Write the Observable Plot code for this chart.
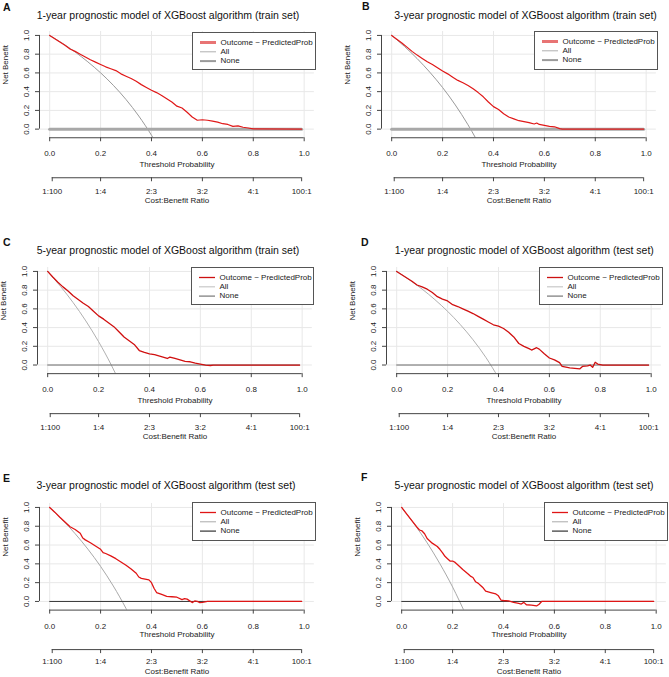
<!DOCTYPE html>
<html><head><meta charset="utf-8">
<script src="https://cdn.jsdelivr.net/npm/d3@7"></script>
<script src="https://cdn.jsdelivr.net/npm/@observablehq/plot@0.6"></script>
<style>
body{margin:0;background:#fff;}
#fig{position:relative;width:669px;height:677px;overflow:hidden;font-family:"Liberation Sans",Arial,sans-serif;background:#fff;}
.abs{position:absolute;white-space:nowrap;}
.title{font-size:10.5px;color:#111;transform:translate(-50%,-50%);line-height:1;}
.letter{font-size:10.5px;font-weight:bold;color:#111;transform:translate(0,-50%);line-height:1;}
.legend{border:1px solid #555;background:#fff;box-sizing:border-box;}
.legend .txt{position:absolute;font-size:8px;color:#222;line-height:1;transform:translate(0,-50%);}
.legend svg{position:absolute;left:0;top:0;overflow:visible;}
svg.plotsvg{position:absolute;}
</style></head>
<body><div id="fig"></div>
<script>
// ---------- data ----------
const titles = [
  "1-year prognostic model of XGBoost algorithm (train set)",
  "3-year prognostic model of XGBoost algorithm (train set)",
  "5-year prognostic model of XGBoost algorithm (train set)",
  "1-year prognostic model of XGBoost algorithm (test set)",
  "3-year prognostic model of XGBoost algorithm (test set)",
  "5-year prognostic model of XGBoost algorithm (test set)"
];
const letters = ["A","B","C","D","E","F"];
const legendNames = ["Outcome ~ PredictedProb", "All", "None"];
const xTicks = [0, 0.2, 0.4, 0.6, 0.8, 1.0];
const yTicks = [0, 0.2, 0.4, 0.6, 0.8, 1.0];
const costTicks = [0.01, 0.2, 0.4, 0.6, 0.8, 0.99];
const costLabels = ["1:100", "1:4", "2:3", "3:2", "4:1", "100:1"];
const noneThr = [0, 0.99];
const noneNB = [0, 0];

// A: 1-year train
const thrA = [0,0.02,0.04,0.06,0.08,0.10,0.12,0.14,0.16,0.18,0.20,0.22,0.24,0.26,0.28,0.30,0.32,0.34,0.36,0.38,0.40,0.42,0.44,0.46,0.48,0.50,0.52,0.54,0.56,0.58,0.60,0.62,0.64,0.66,0.68,0.70,0.72,0.74,0.76,0.78,0.80,0.99];
const nbA  = [1.0,0.965,0.93,0.895,0.855,0.83,0.80,0.77,0.74,0.715,0.69,0.665,0.645,0.625,0.59,0.565,0.54,0.51,0.475,0.445,0.415,0.39,0.36,0.325,0.29,0.245,0.225,0.18,0.13,0.095,0.10,0.095,0.085,0.075,0.058,0.05,0.03,0.035,0.02,0.012,0.002,0];
const allThrA = [0,0.05,0.1,0.15,0.2,0.25,0.3,0.35,0.4,0.42];
const allA    = [1,0.916,0.823,0.718,0.601,0.468,0.316,0.140,-0.065,-0.157];

// B: 3-year train
const thrB = [0,0.02,0.04,0.06,0.08,0.10,0.12,0.14,0.16,0.18,0.20,0.22,0.24,0.26,0.28,0.30,0.32,0.34,0.36,0.38,0.40,0.42,0.44,0.46,0.48,0.50,0.52,0.54,0.56,0.57,0.58,0.60,0.62,0.64,0.66,0.67,0.99];
const nbB  = [1.0,0.96,0.92,0.875,0.83,0.79,0.755,0.72,0.69,0.655,0.62,0.59,0.555,0.52,0.495,0.465,0.43,0.39,0.345,0.29,0.24,0.21,0.165,0.13,0.11,0.09,0.08,0.07,0.055,0.065,0.05,0.04,0.03,0.025,0.005,0,0];
const allThrB = [0,0.05,0.1,0.15,0.2,0.25,0.3,0.33,0.35];
const allB    = [1,0.883,0.753,0.607,0.444,0.258,0.046,-0.096,-0.199];

// C: 5-year train
const thrC = [0,0.02,0.04,0.06,0.08,0.10,0.12,0.14,0.16,0.18,0.20,0.22,0.24,0.26,0.28,0.30,0.32,0.34,0.36,0.38,0.40,0.42,0.44,0.46,0.47,0.48,0.50,0.52,0.54,0.56,0.58,0.60,0.62,0.64,0.65,0.99];
const nbC  = [1.0,0.94,0.885,0.835,0.79,0.74,0.70,0.66,0.625,0.575,0.525,0.49,0.45,0.41,0.355,0.30,0.26,0.22,0.155,0.135,0.12,0.11,0.095,0.08,0.07,0.085,0.07,0.055,0.04,0.035,0.02,0.01,0.0,-0.005,0,0];
const allThrC = [0,0.05,0.1,0.15,0.2,0.25,0.27,0.3];
const allC    = [1,0.842,0.667,0.471,0.25,0.0,-0.11,-0.286];

// D: 1-year test
const thrD = [0,0.02,0.04,0.06,0.08,0.10,0.12,0.14,0.16,0.18,0.20,0.22,0.24,0.26,0.28,0.30,0.32,0.34,0.36,0.38,0.40,0.42,0.44,0.46,0.48,0.50,0.52,0.53,0.55,0.56,0.58,0.60,0.62,0.64,0.65,0.68,0.70,0.72,0.73,0.75,0.76,0.77,0.78,0.79,0.81,0.99];
const nbD  = [1.0,0.965,0.93,0.895,0.855,0.835,0.81,0.775,0.73,0.705,0.685,0.645,0.625,0.60,0.575,0.55,0.52,0.49,0.46,0.43,0.415,0.39,0.35,0.30,0.23,0.20,0.175,0.16,0.185,0.17,0.12,0.075,0.055,0.025,-0.015,-0.03,-0.035,-0.04,-0.015,-0.01,0.0,-0.025,0.03,0.01,0,0];
const allThrD = [0,0.05,0.1,0.15,0.2,0.25,0.3,0.35,0.4];
const allD    = [1,0.910,0.811,0.699,0.574,0.432,0.270,0.083,-0.135];

// E: 3-year test
const thrE = [0,0.02,0.04,0.06,0.08,0.10,0.12,0.13,0.14,0.16,0.18,0.20,0.21,0.22,0.24,0.26,0.28,0.30,0.32,0.34,0.35,0.36,0.38,0.39,0.40,0.41,0.42,0.44,0.46,0.48,0.50,0.52,0.53,0.54,0.56,0.57,0.58,0.59,0.60,0.62,0.99];
const nbE  = [1.0,0.95,0.895,0.845,0.795,0.765,0.725,0.675,0.655,0.625,0.59,0.555,0.52,0.51,0.485,0.455,0.42,0.385,0.345,0.30,0.26,0.245,0.235,0.23,0.20,0.14,0.095,0.075,0.055,0.05,0.045,0.02,0.03,0.025,-0.012,0.005,0.0,-0.012,-0.01,0,0];
const allThrE = [0,0.05,0.1,0.15,0.2,0.25,0.3,0.32];
const allE    = [1,0.868,0.721,0.557,0.373,0.164,-0.075,-0.181];

// F: 5-year test
const thrF = [0,0.02,0.04,0.06,0.07,0.08,0.09,0.10,0.12,0.14,0.15,0.16,0.17,0.18,0.19,0.20,0.21,0.22,0.24,0.26,0.27,0.28,0.29,0.30,0.31,0.32,0.33,0.35,0.37,0.38,0.39,0.40,0.42,0.44,0.46,0.47,0.48,0.49,0.51,0.53,0.54,0.55,0.99];
const nbF  = [1.0,0.93,0.86,0.79,0.76,0.75,0.72,0.67,0.62,0.585,0.555,0.52,0.48,0.455,0.43,0.43,0.415,0.39,0.34,0.295,0.27,0.255,0.21,0.195,0.17,0.145,0.11,0.095,0.08,0.06,0.015,0.01,0.005,-0.01,-0.02,-0.028,-0.01,-0.035,-0.04,-0.048,-0.03,0.0,0];
const allThrF = [0,0.05,0.1,0.15,0.2,0.25];
const allF    = [1,0.822,0.624,0.402,0.154,-0.129];

const modelThr = [thrA, thrB, thrC, thrD, thrE, thrF];
const modelNB  = [nbA, nbB, nbC, nbD, nbE, nbF];
const allThr   = [allThrA, allThrB, allThrC, allThrD, allThrE, allThrF];
const allNB    = [allA, allB, allC, allD, allE, allF];

// ---------- layout & styles ----------
const layout = [
  {x0:49.3,  y1:35,    y0:128.7, title:[168,15],     letter:[3,6.7],   legend:[192,31.7,124,37.6],    st:0, thrDy:29, cbLine:40, cbPad:7, cbDy:65.5},
  {x0:390.7, y1:35,    y0:128.7, title:[525.5,15],   letter:[362,6.2], legend:[534,30.7,124,38.6],    st:0, thrDy:29, cbLine:40, cbPad:7, cbDy:65.5},
  {x0:46.7,  y1:270.7, y0:364.3, title:[168,249.5],  letter:[3,242],   legend:[190.7,266.7,122.6,38.3], st:1, thrDy:29, cbLine:40, cbPad:7, cbDy:65.5},
  {x0:396,   y1:270.7, y0:364.3, title:[524.3,250],  letter:[361,241.5], legend:[539,266.7,124,38.3], st:1, thrDy:29, cbLine:40, cbPad:7, cbDy:65.5},
  {x0:49.3,  y1:506.7, y0:600.7, title:[166,485],    letter:[3,477.5], legend:[192.3,501.7,123.7,39], st:2, thrDy:27, cbLine:39.5, cbPad:5, cbDy:63.8},
  {x0:401.3, y1:506.7, y0:600.7, title:[524,485],    letter:[361,477], legend:[544,501.7,124.3,39],   st:2, thrDy:27, cbLine:39.5, cbPad:5, cbDy:63.8}
];
const styles = [
  {red:"#e01818", redW:1.2, all:"#9a9a9a", none:"#a8a8a8", noneW:3, lgRed:"#e87474", lgRedW:3, lgAll:"#b0b0b0", lgAllW:1, lgNone:"#9a9a9a", lgNoneW:2},
  {red:"#d01010", redW:1.3, all:"#b0b0b0", none:"#6a6a6a", noneW:1, lgRed:"#cc1111", lgRedW:1.3, lgAll:"#c8c8c8", lgAllW:1.2, lgNone:"#777", lgNoneW:1.2},
  {red:"#e01515", redW:1.3, all:"#a8a8a8", none:"#333", noneW:1, lgRed:"#e01515", lgRedW:1.3, lgAll:"#aaa", lgAllW:1, lgNone:"#333", lgNoneW:1.2}
];

const KX = 254.5;
const XDOM = [-0.04, 1.04], YDOM = [-0.092, 1.042];
const ML = 45, MR = 5, MT = 10, MB = 80;
const AX = "#444";
const costMap = new Map(costTicks.map((t, i) => [t, costLabels[i]]));
const fmt = d3.format(".1f");
const fig = document.getElementById("fig");

layout.forEach((L, i) => {
  const S = styles[L.st];
  const KY = L.y0 - L.y1;
  const frameLeft = L.x0 + XDOM[0] * KX;
  const frameTop = L.y1 - (YDOM[1] - 1) * KY;
  const model = modelThr[i].map((x, j) => ({x, y: modelNB[i][j]}));
  const all = allThr[i].map((x, j) => ({x, y: allNB[i][j]}));
  const none = noneThr.map((x, j) => ({x, y: noneNB[j]}));
  const chart = Plot.plot({
    width: ML + (XDOM[1] - XDOM[0]) * KX + MR,
    height: MT + (YDOM[1] - YDOM[0]) * KY + MB,
    marginLeft: ML, marginRight: MR, marginTop: MT, marginBottom: MB,
    x: {domain: XDOM},
    y: {domain: YDOM},
    style: {background: "none", fontFamily: "'Liberation Sans', Arial, sans-serif", fontSize: "8px", color: "#222", overflow: "visible"},
    marks: [
      Plot.gridX(xTicks, {stroke: "#e8e8e8", strokeOpacity: 1}),
      Plot.gridY(yTicks, {stroke: "#e8e8e8", strokeOpacity: 1}),
      Plot.line(all, {x: "x", y: "y", stroke: S.all, strokeWidth: 1, clip: true, curve: "monotone-x"}),
      Plot.line(none, {x: "x", y: "y", stroke: S.none, strokeWidth: S.noneW}),
      Plot.line(model, {x: "x", y: "y", stroke: S.red, strokeWidth: S.redW, clip: true}),
      // x axis (threshold probability)
      Plot.ruleY([YDOM[0]], {x1: xTicks[0], x2: xTicks[xTicks.length - 1], stroke: AX}),
      Plot.axisX(xTicks, {tickFormat: fmt, tickSize: 4, tickPadding: 9, label: null, stroke: AX}),
      // y axis
      Plot.ruleX([XDOM[0]], {y1: yTicks[0], y2: yTicks[yTicks.length - 1], stroke: AX}),
      Plot.axisY(yTicks, {tickFormat: () => "", tickSize: 4, label: null, stroke: AX}),
      Plot.text(yTicks, {y: d => d, text: fmt, frameAnchor: "left", dx: -13, rotate: -90, textAnchor: "middle", lineAnchor: "middle", fill: "#222"}),
      // cost:benefit axis
      Plot.ruleY([YDOM[0]], {x1: costTicks[0], x2: costTicks[costTicks.length - 1], dy: L.cbLine, stroke: AX}),
      Plot.axisX(costTicks, {tickFormat: d => costMap.get(d), tickSize: 4, tickPadding: L.cbPad, dy: L.cbLine, label: null, stroke: AX}),
      Plot.text(["Threshold Probability"], {text: d => d, frameAnchor: "bottom", dy: L.thrDy, fill: "#222"}),
      Plot.text(["Cost:Benefit Ratio"], {text: d => d, frameAnchor: "bottom", dy: L.cbDy, fill: "#222"}),
      Plot.text(["Net Benefit"], {text: d => d, frameAnchor: "left", dx: -34, rotate: -90, fill: "#222"})
    ]
  });
  chart.classList.add("plotsvg");
  chart.style.left = Math.round(frameLeft - ML) + "px";
  chart.style.top = Math.round(frameTop - MT) + "px";
  chart.style.position = "absolute";
  chart.style.maxWidth = "none";
  fig.appendChild(chart);

  // title
  const t = document.createElement("div");
  t.className = "abs title";
  t.textContent = titles[i];
  t.style.left = L.title[0] + "px"; t.style.top = L.title[1] + "px";
  fig.appendChild(t);
  // letter
  const l = document.createElement("div");
  l.className = "abs letter";
  l.textContent = letters[i];
  l.style.left = L.letter[0] + "px"; l.style.top = L.letter[1] + "px";
  fig.appendChild(l);
  // legend
  const [lx, ly, lw, lh] = L.legend;
  const g = document.createElement("div");
  g.className = "abs legend";
  Object.assign(g.style, {left: Math.round(lx) + "px", top: Math.round(ly) + "px", width: Math.round(lw) + "px", height: Math.round(lh) + "px"});
  const rowsY = [9.5, 18.8, 28.1];
  const swc = [[S.lgRed, S.lgRedW], [S.lgAll, S.lgAllW], [S.lgNone, S.lgNoneW]];
  const ns = "http://www.w3.org/2000/svg";
  const sv = document.createElementNS(ns, "svg");
  sv.setAttribute("width", Math.round(lw)); sv.setAttribute("height", Math.round(lh));
  legendNames.forEach((name, k) => {
    const ln = document.createElementNS(ns, "line");
    ln.setAttribute("x1", 7); ln.setAttribute("x2", 23);
    ln.setAttribute("y1", rowsY[k]); ln.setAttribute("y2", rowsY[k]);
    ln.setAttribute("stroke", swc[k][0]); ln.setAttribute("stroke-width", swc[k][1]);
    sv.appendChild(ln);
    const tx = document.createElement("div");
    tx.className = "txt";
    tx.textContent = name;
    tx.style.left = "27.5px"; tx.style.top = rowsY[k] + "px";
    g.appendChild(tx);
  });
  g.insertBefore(sv, g.firstChild);
  fig.appendChild(g);
});
</script></body></html>
